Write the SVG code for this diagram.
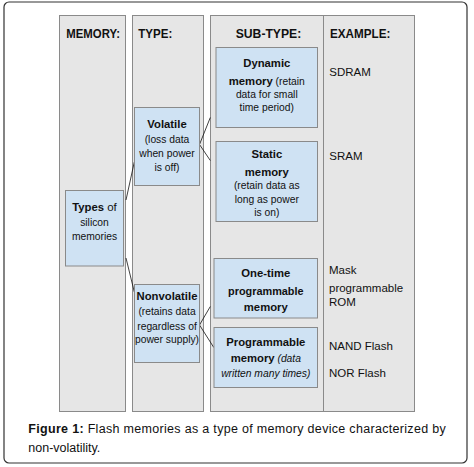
<svg xmlns="http://www.w3.org/2000/svg" width="474" height="467" viewBox="0 0 474 467">
<style>
.frame{fill:#fff;stroke:#333;stroke-width:1.2}
.col{fill:#e6e6e6;stroke:#8a8a8a;stroke-width:1}
.node{fill:#cfe2f3;stroke:#8a8a8a;stroke-width:1}
.hdr{font-family:"Liberation Sans",Arial,sans-serif;font-weight:bold;font-size:12.5px;fill:#111}
.t{font-family:"Liberation Sans",Arial,sans-serif;font-size:10.3px;text-anchor:middle;fill:#111}
.b{font-weight:bold;font-size:11.3px}
.i{font-style:italic}
.ex{font-family:"Liberation Sans",Arial,sans-serif;font-size:11.5px;fill:#111}
.cap{font-family:"Liberation Sans",Arial,sans-serif;font-size:12.5px;fill:#111}
.conn{stroke:#111;stroke-width:0.8;fill:none}
</style>
<rect class="frame" x="4" y="2" width="463" height="461" rx="5"/>
<g id="columns">
<rect class="col" x="59.5" y="15.5" width="66" height="396"/>
<rect class="col" x="132.5" y="15.5" width="71" height="396"/>
<rect class="col" x="210.5" y="15.5" width="204" height="396"/>
<line x1="323.5" y1="15.5" x2="323.5" y2="411.5" stroke="#8a8a8a" stroke-width="1"/>
<text class="hdr" x="66.3" y="37.7" textLength="53.7" lengthAdjust="spacingAndGlyphs">MEMORY:</text>
<text class="hdr" x="138.3" y="37.7" textLength="34" lengthAdjust="spacingAndGlyphs">TYPE:</text>
<text class="hdr" x="235.7" y="37.5" textLength="65.6" lengthAdjust="spacingAndGlyphs">SUB-TYPE:</text>
<text class="hdr" x="330" y="37.5" textLength="60.3" lengthAdjust="spacingAndGlyphs">EXAMPLE:</text>
</g>
<g id="connectors">
<line class="conn" x1="126" y1="200" x2="134.3" y2="162"/>
<line class="conn" x1="126" y1="258" x2="134.3" y2="292"/>
<polyline class="conn" points="210.3,117.5 199.5,144.5 210.3,160.5"/>
<polyline class="conn" points="210.3,306.5 199.5,325 213.8,347.5"/>
</g>
<g id="types">
<rect class="node" x="65.5" y="190.5" width="58" height="75.5"/>
<text class="t" x="94.5" y="210.7"><tspan class="b" font-size="11.5">Types</tspan><tspan font-size="11.5"> of</tspan></text>
<text class="t" x="94.5" y="225.7" font-size="11.3">silicon</text>
<text class="t" x="94.5" y="239.5" font-size="10.8">memories</text>
</g>
<g id="volatile">
<rect class="node" x="134.5" y="107.5" width="65" height="78"/>
<text class="t b" x="167" y="128.4">Volatile</text>
<text class="t" x="167" y="143.2">(loss data</text>
<text class="t" x="167" y="157.3">when power</text>
<text class="t" x="167" y="171.2">is off)</text>
</g>
<g id="nonvolatile">
<rect class="node" x="134.5" y="284.5" width="65" height="78"/>
<text class="t b" x="167" y="300.3">Nonvolatile</text>
<text class="t" x="167" y="315.3">(retains data</text>
<text class="t" x="167" y="329.5">regardless of</text>
<text class="t" x="167" y="343">power supply)</text>
</g>
<g id="dynamic">
<rect class="node" x="216" y="47.5" width="101.5" height="80"/>
<text class="t b" x="266.8" y="66.7">Dynamic</text>
<text class="t" x="266.8" y="85"><tspan class="b">memory</tspan> (retain</text>
<text class="t" x="266.8" y="97.5">data for small</text>
<text class="t" x="266.8" y="110.8">time period)</text>
</g>
<g id="static">
<rect class="node" x="216" y="141.5" width="101.5" height="80"/>
<text class="t b" x="266.8" y="157.5">Static</text>
<text class="t b" x="266.8" y="176">memory</text>
<text class="t" x="266.8" y="188.8">(retain data as</text>
<text class="t" x="266.8" y="202.6">long as power</text>
<text class="t" x="266.8" y="216">is on)</text>
</g>
<g id="onetime">
<rect class="node" x="214" y="258.5" width="103.5" height="59.5"/>
<text class="t b" x="265.8" y="277.3">One-time</text>
<text class="t b" x="265.8" y="295" textLength="75.5" lengthAdjust="spacingAndGlyphs">programmable</text>
<text class="t b" x="265.8" y="311">memory</text>
</g>
<g id="programmable">
<rect class="node" x="214" y="327.5" width="103.5" height="60"/>
<text class="t b" x="265.8" y="346">Programmable</text>
<text class="t" x="265.8" y="361.7"><tspan class="b">memory</tspan> <tspan class="i">(data</tspan></text>
<text class="t i" x="265.8" y="376.7">written many times)</text>
</g>
<g id="examples">
<text class="ex" x="329.3" y="76">SDRAM</text>
<text class="ex" x="329.3" y="160">SRAM</text>
<text class="ex" x="329" y="274">Mask</text>
<text class="ex" x="329" y="291.5">programmable</text>
<text class="ex" x="329" y="306.2">ROM</text>
<text class="ex" x="329" y="350">NAND Flash</text>
<text class="ex" x="329" y="377.3">NOR Flash</text>
</g>
<g id="caption">
<text class="cap" x="28.3" y="432.7" textLength="417.4" lengthAdjust="spacing"><tspan font-weight="bold">Figure 1:</tspan> Flash memories as a type of memory device characterized by</text>
<text class="cap" x="28.3" y="451.7">non-volatility.</text>
</g>
</svg>
